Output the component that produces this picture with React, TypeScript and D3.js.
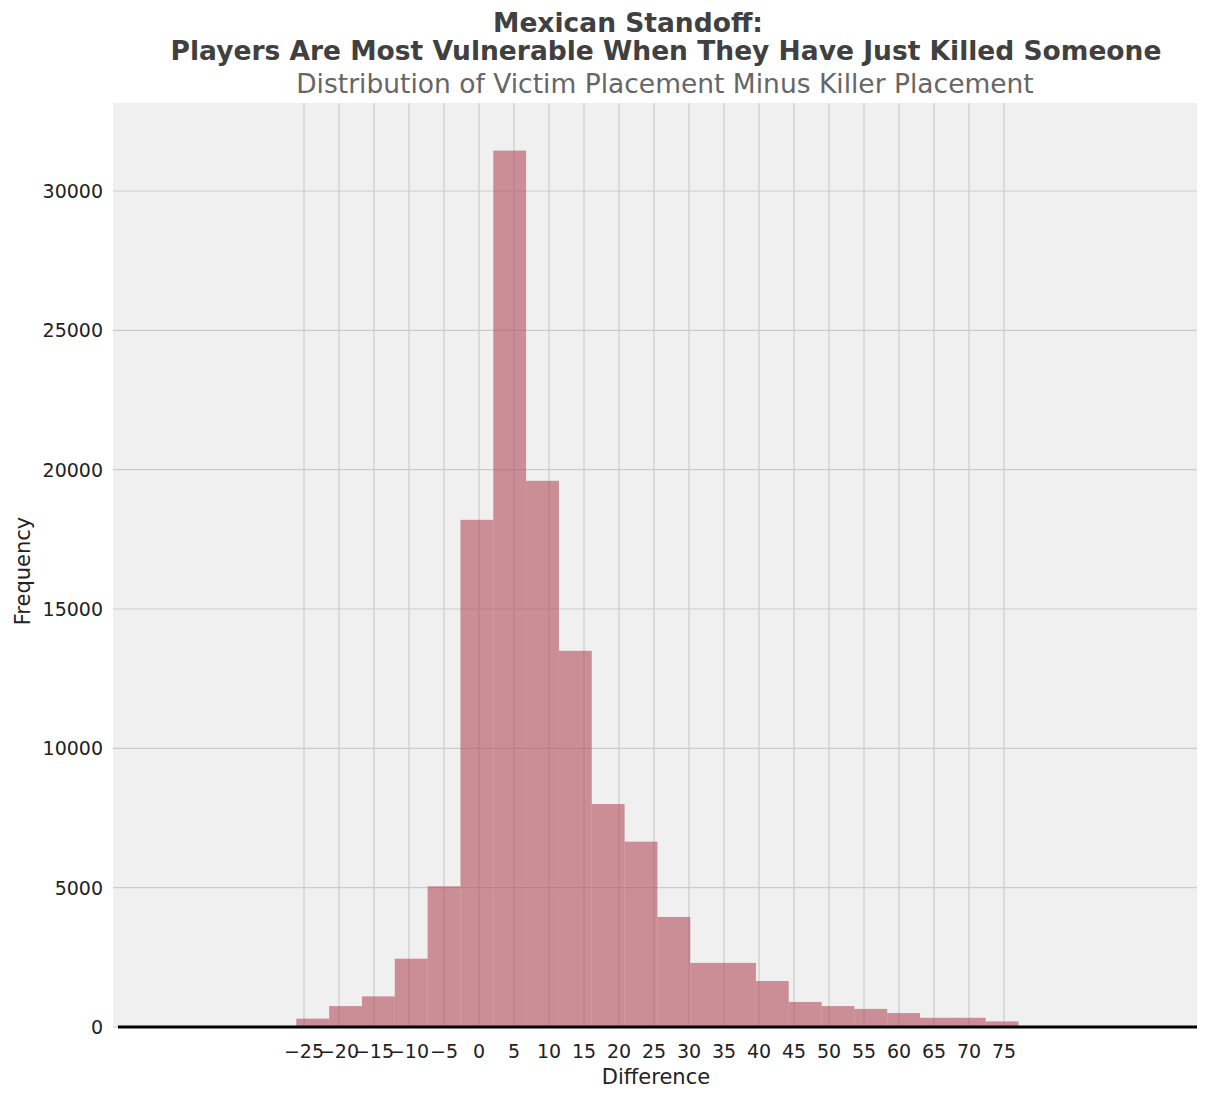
import React, { useEffect, useRef } from "react";
import * as d3 from "d3";

const binStart = -26.1;
const binWidth = 4.69;
const counts = [300, 750, 1100, 2450, 5050, 18200, 31450, 19600, 13500, 8000, 6650, 3950, 2300, 2300, 1650, 900, 750, 650, 500, 330, 330, 200];
const xTicks = d3.range(-25, 80, 5);
const yTicks = [0, 5000, 10000, 15000, 20000, 25000, 30000];

const App = () => {
  const svgRef = useRef<SVGSVGElement | null>(null);

  useEffect(() => {
    if (!svgRef.current) return;
    const svg = d3.select(svgRef.current);
    svg.selectAll("*").remove();

    const left = 113, right = 1197, top = 103, bottom = 1027;
    const x = d3.scaleLinear().domain([-25, 75]).range([304, 1004]);
    const y = d3.scaleLinear().domain([0, 30000]).range([bottom, 191]);

    svg.append("rect").attr("x", left).attr("y", top).attr("width", right - left).attr("height", bottom - top).attr("fill", "#f0f0f0");

    const g = svg.append("g");
    g.selectAll("line.gx").data(xTicks).enter().append("line")
      .attr("x1", (d) => x(d)).attr("x2", (d) => x(d)).attr("y1", top).attr("y2", bottom)
      .attr("stroke", "#cbcbcb").attr("stroke-width", 1.2);
    g.selectAll("line.gy").data(yTicks).enter().append("line")
      .attr("x1", left).attr("x2", right).attr("y1", (d) => y(d)).attr("y2", (d) => y(d))
      .attr("stroke", "#cbcbcb").attr("stroke-width", 1.2);

    g.selectAll("rect.bar").data(counts).enter().append("rect")
      .attr("x", (_, i) => x(binStart + i * binWidth))
      .attr("width", x(binWidth) - x(0))
      .attr("y", (d) => y(d))
      .attr("height", (d) => bottom - y(d))
      .attr("fill", "#b24d5b").attr("fill-opacity", 0.6);

    svg.append("line").attr("x1", 118).attr("x2", right).attr("y1", y(0)).attr("y2", y(0))
      .attr("stroke", "#000").attr("stroke-width", 3);

    const font = "DejaVu Sans, sans-serif";
    svg.selectAll("text.xt").data(xTicks).enter().append("text")
      .attr("x", (d) => x(d)).attr("y", 1058).attr("text-anchor", "middle")
      .attr("font-family", font).attr("font-size", 19).attr("fill", "#222")
      .text((d) => (d < 0 ? "\u2212" + Math.abs(d) : String(d)));
    svg.selectAll("text.yt").data(yTicks).enter().append("text")
      .attr("x", 103).attr("y", (d) => y(d) + 7).attr("text-anchor", "end")
      .attr("font-family", font).attr("font-size", 19).attr("fill", "#222")
      .text((d) => String(d));

    svg.append("text").attr("x", 656).attr("y", 1084).attr("text-anchor", "middle")
      .attr("font-family", font).attr("font-size", 21).attr("fill", "#222").text("Difference");
    svg.append("text").attr("transform", "translate(30,571) rotate(-90)").attr("text-anchor", "middle")
      .attr("font-family", font).attr("font-size", 21).attr("fill", "#222").text("Frequency");

    svg.append("text").attr("x", 628).attr("y", 32).attr("text-anchor", "middle")
      .attr("font-family", font).attr("font-size", 26.5).attr("font-weight", "bold").attr("fill", "#404040")
      .text("Mexican Standoff:");
    svg.append("text").attr("x", 666).attr("y", 60).attr("text-anchor", "middle")
      .attr("font-family", font).attr("font-size", 26.5).attr("font-weight", "bold").attr("fill", "#404040")
      .text("Players Are Most Vulnerable When They Have Just Killed Someone");
    svg.append("text").attr("x", 665).attr("y", 93).attr("text-anchor", "middle")
      .attr("font-family", font).attr("font-size", 26.5).attr("fill", "#666")
      .text("Distribution of Victim Placement Minus Killer Placement");
  }, []);

  return <svg ref={svgRef} width={1209} height={1098} style={{ display: "block", margin: -8 }} />;
};

export default App;
